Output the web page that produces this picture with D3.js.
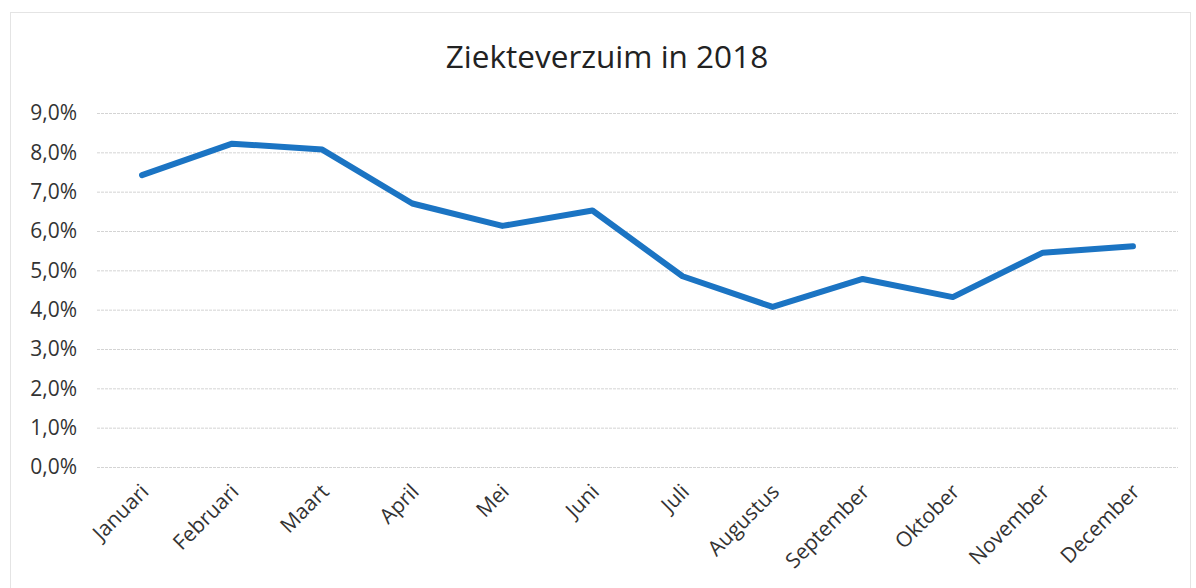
<!DOCTYPE html>
<html><head><meta charset="utf-8">
<script src="https://cdn.jsdelivr.net/npm/d3@7"></script>
<style>body{margin:0;background:#fff}svg{display:block}</style>
</head><body>
<script>
const months = ["Januari","Februari","Maart","April","Mei","Juni","Juli","Augustus","September","Oktober","November","December"];
const values = [7.42, 8.22, 8.07, 6.70, 6.13, 6.52, 4.85, 4.07, 4.78, 4.32, 5.45, 5.61];
const yTicks = [0,1,2,3,4,5,6,7,8,9];
const title = "Ziekteverzuim in 2018";

const W = 1196, H = 588;
const m = {left:97, right:18, top:113, bottom:121};
const svg = d3.select("body").append("svg").attr("width",W).attr("height",H);
const font = "'Open Sans', sans-serif";

svg.append("rect").attr("x",10.5).attr("y",12.5).attr("width",1180).attr("height",580)
  .attr("fill","none").attr("stroke","#e4e4e4");

const x = d3.scaleBand().domain(months).range([m.left, W - m.right]);
const y = d3.scaleLinear().domain([0,9]).range([H - m.bottom, m.top]);

const yAxis = svg.append("g").attr("transform",`translate(${m.left},0)`)
  .call(d3.axisLeft(y).tickValues(yTicks).tickSize(-(W - m.left - m.right)).tickPadding(20)
    .tickFormat(d => d3.format(".1f")(d).replace(".", ",") + "%"));
yAxis.select(".domain").remove();
yAxis.selectAll("line").attr("stroke","#d4d4d4").attr("stroke-width",1).attr("stroke-dasharray","3,1");
yAxis.selectAll("text").attr("font-family",font).attr("font-size",21).attr("fill","#333");

const xAxis = svg.append("g").attr("transform",`translate(0,${H - m.bottom})`)
  .call(d3.axisBottom(x).tickSize(0).tickPadding(0));
xAxis.select(".domain").remove();
xAxis.selectAll("text")
  .attr("font-family",font).attr("font-size",21).attr("fill","#333")
  .attr("text-anchor","end").attr("dy",0)
  .attr("transform","translate(8,26) rotate(-45)");

const line = d3.line().x((d,i)=>x(months[i]) + x.bandwidth()/2).y(d=>y(d));
svg.append("path").datum(values).attr("d",line)
  .attr("fill","none").attr("stroke","#1b74c3").attr("stroke-width",6)
  .attr("stroke-linejoin","round").attr("stroke-linecap","round");

svg.append("text").attr("x",607).attr("y",68).attr("text-anchor","middle")
  .attr("font-family",font).attr("font-size",31.5).attr("fill","#222").text(title);
</script>
</body></html>
